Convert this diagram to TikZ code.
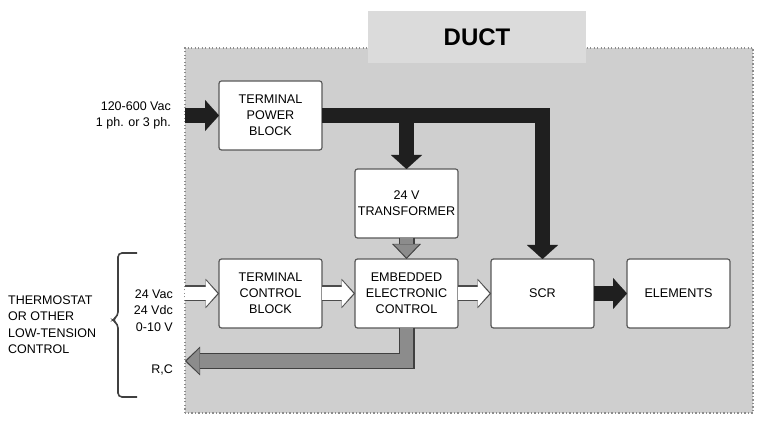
\documentclass[tikz,border=0pt]{standalone}
\usepackage{fontspec}
\setmainfont{Liberation Sans}
\usetikzlibrary{positioning}
\usetikzlibrary{arrows.meta}
\definecolor{ductgray}{HTML}{CFCFCF}
\definecolor{labelgray}{HTML}{DBDBDB}
\definecolor{midgray}{HTML}{8C8C8C}
\tikzset{%
  powerarrow/.style = {draw=black!88, line width=15pt,
        -{Triangle[length=14pt,width=31pt,line width=0.1pt]}},
  signalarrow/.style = {draw=white, line width=13.6pt, shorten >=1.7pt,
        -{Triangle[length=11.5pt,width=26pt,line width=0.1pt]},
        preaction={draw=black!70, line width=16pt, shorten >=0pt,
        -{Triangle[length=13.5pt,width=29.5pt,line width=0.1pt]}}},
  lowarrow/.style = {draw=midgray, line width=13.6pt, shorten >=1.7pt,
        -{Triangle[length=13pt,width=25pt,line width=0.1pt]},
        preaction={draw=black!75, line width=16pt, shorten >=0pt,
        -{Triangle[length=15pt,width=28.5pt,line width=0.1pt]}}},
  b/.style = {rectangle,draw=black!65,fill=white,line width=1.2pt,
        rounded corners=2.5pt,minimum width=103pt,minimum height=69pt,
        inner sep=0pt,outer sep=0pt,align=center,
        font=\fontsize{12.6}{16}\selectfont},
  lbl/.style = {inner sep=0pt,font=\fontsize{12.5}{16.5}\selectfont},
  duct/.style = {fill=ductgray,draw=black!45,line width=1.4pt,
        dash pattern=on 1.3pt off 2.2pt},
  ductlabel/.style = {fill=labelgray,minimum width=218pt,minimum height=52pt,
        inner sep=0pt,font=\fontsize{24}{28}\selectfont\bfseries},
  curly/.style = {draw=black!75,line width=1.6pt,rounded corners=4pt}
}

\begin{document}
\begin{tikzpicture}[x=1pt,y=1pt,node distance=21pt and 33pt]
        \useasboundingbox (0,0) rectangle (757,420);
        \draw[duct] (185,7) rectangle (753,372);
        \node[ductlabel] (duct) at (477,383) {DUCT};

        \node[b] (tpb) at (270.5,304.5) {TERMINAL\\POWER\\BLOCK};
        \node[b] (tcb) [below=109pt of tpb] {TERMINAL\\CONTROL\\BLOCK};
        \node[b] (ctrl) [right=of tcb] {EMBEDDED\\ELECTRONIC\\CONTROL};
        \node[b] (trafo) [above=of ctrl] {24 V\\TRANSFORMER};
        \node[b] (scr) [right=of ctrl] {SCR};
        \node[b] (elem) [right=of scr] {ELEMENTS};

        \coordinate (pin) at (185,304.5);
        \coordinate (cin) at (185,126.5);
        \coordinate (rc) at (185,59);
        \coordinate (split) at (trafo |- tpb);

        \draw[powerarrow] (pin) -- (tpb);
        \draw[powerarrow] (tpb) -| (scr);
        \draw[powerarrow] (split) -- (trafo);
        \draw[powerarrow] (scr) -- (elem);
        \draw[signalarrow] (cin) -- (tcb);
        \draw[signalarrow] (tcb) -- (ctrl);
        \draw[signalarrow] (ctrl) -- (scr);
        \draw[lowarrow] (trafo) -- (ctrl);
        \draw[lowarrow] (ctrl) |- (rc);

        \node[lbl,align=right] (supply) [left=14pt of pin] {120-600 Vac\\1 ph. or 3 ph.};
        \node[lbl,align=right,anchor=east] (signals) at (173,109.5) {24 Vac\\24 Vdc\\0-10 V};
        \node[lbl,anchor=east] (rclabel) at (173,50) {R,C};
        \node[lbl,align=left,anchor=west] (thermo) at (8,95.5) {THERMOSTAT\\OR OTHER\\LOW-TENSION\\CONTROL};

        \draw[curly] (137,167) -- (118,167) -- (118,104) -- (112,100)
                -- (118,96) -- (118,23) -- (137,23);
    \end{tikzpicture}
\end{document}
